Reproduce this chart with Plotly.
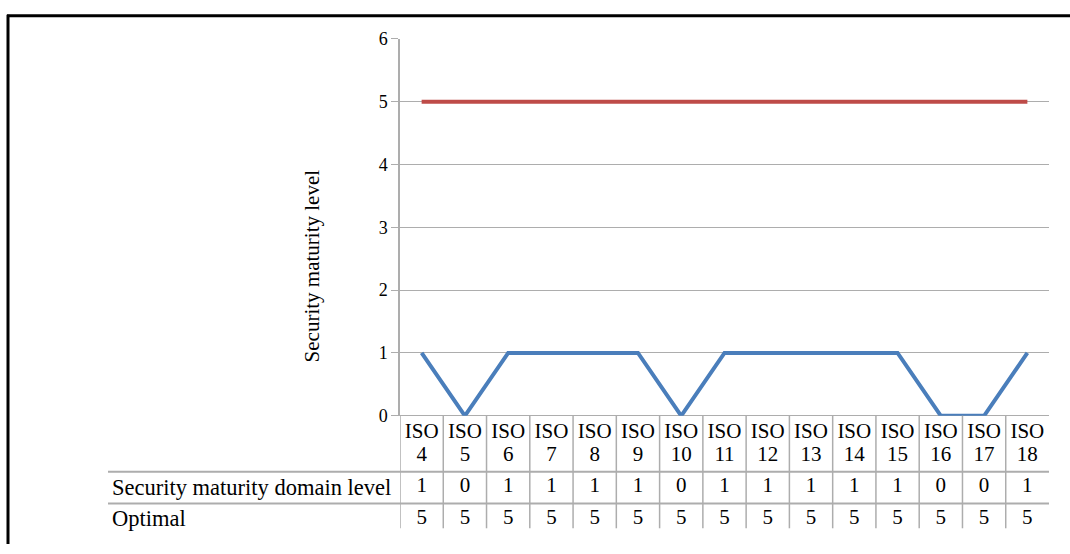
import plotly.graph_objects as go

# ---- data ----
categories = ["ISO 4", "ISO 5", "ISO 6", "ISO 7", "ISO 8", "ISO 9", "ISO 10", "ISO 11",
              "ISO 12", "ISO 13", "ISO 14", "ISO 15", "ISO 16", "ISO 17", "ISO 18"]
maturity = [1, 0, 1, 1, 1, 1, 0, 1, 1, 1, 1, 1, 0, 0, 1]
optimal = [5, 5, 5, 5, 5, 5, 5, 5, 5, 5, 5, 5, 5, 5, 5]
series_names = ["Security maturity domain level", "Optimal"]
y_title = "Security maturity level"
y_ticks = [0, 1, 2, 3, 4, 5, 6]

# ---- geometry helpers (pixels -> paper) ----
W, H = 1070, 554
def px(x):
    return x / W
def py(y):
    return (H - y) / H

FONT = "Liberation Serif, Times New Roman, serif"
GRID = "#adadad"
BLUE = "#4a7ebb"
RED = "#be4b48"

fig = go.Figure()

fig.add_trace(go.Scatter(x=categories, y=maturity, mode="lines", name=series_names[0],
                         line=dict(color=BLUE, width=4), xaxis="x", yaxis="y"))
fig.add_trace(go.Scatter(x=categories, y=optimal, mode="lines", name=series_names[1],
                         line=dict(color=RED, width=4), xaxis="x", yaxis="y"))

# data table rows (y2 coordinate = pixel offset below plot bottom)
def text_row(texts, yrow, size):
    fig.add_trace(go.Scatter(x=categories, y=[yrow] * len(categories), mode="text", text=texts,
                             textposition="middle center",
                             textfont=dict(family=FONT, size=size, color="black"),
                             xaxis="x", yaxis="y2", cliponaxis=False, showlegend=False,
                             hoverinfo="skip"))

text_row([c.split(" ")[0] for c in categories], 18, 21)
text_row([c.split(" ")[1] for c in categories], 41, 21)
text_row([str(v) for v in maturity], 74, 21)
text_row([str(v) for v in optimal], 107, 21)

shapes = []
n = len(categories)
# vertical axis line extension through table
shapes.append(dict(type="line", xref="x", yref="paper", x0=-0.5, x1=-0.5, y0=py(421), y1=py(538),
                   line=dict(color=GRID, width=1.5)))
# column separators
for i in range(n - 1):
    shapes.append(dict(type="line", xref="x", yref="paper", x0=i + 0.5, x1=i + 0.5,
                       y0=py(421), y1=py(538), line=dict(color=GRID, width=1.5)))
# row separators
for yy in (479, 512):
    shapes.append(dict(type="line", xref="paper", yref="paper", x0=px(108), x1=px(1049),
                       y0=py(yy), y1=py(yy), line=dict(color=GRID, width=2)))
# crop below table
shapes.append(dict(type="rect", xref="paper", yref="paper", x0=px(10), x1=1, y0=0, y1=py(538),
                   fillcolor="white", line=dict(width=0), layer="above"))
# black frame (left and top)
shapes.append(dict(type="line", xref="paper", yref="paper", x0=px(8), x1=px(8), y0=0, y1=py(5),
                   line=dict(color="black", width=3), layer="above"))
shapes.append(dict(type="line", xref="paper", yref="paper", x0=px(7), x1=1, y0=py(6), y1=py(6),
                   line=dict(color="black", width=3), layer="above"))

annotations = [
    dict(text=series_names[0], xref="paper", yref="y2", x=px(110), y=74, xanchor="left",
         yanchor="middle", showarrow=False, font=dict(family=FONT, size=22.5, color="black")),
    dict(text=series_names[1], xref="paper", yref="y2", x=px(110), y=107, xanchor="left",
         yanchor="middle", showarrow=False, font=dict(family=FONT, size=22.5, color="black")),
    dict(text=y_title, xref="paper", yref="paper", x=px(312), y=py(266), textangle=-90,
         xanchor="center", yanchor="middle", showarrow=False,
         font=dict(family=FONT, size=21, color="black")),
]

fig.update_layout(
    width=W, height=H,
    margin=dict(l=0, r=0, t=0, b=0),
    paper_bgcolor="white", plot_bgcolor="white",
    showlegend=False,
    xaxis=dict(type="category", range=[-0.5, n - 0.5], domain=[px(400), px(1049)],
               showticklabels=False, showgrid=False, zeroline=False, showline=False,
               ticks="", anchor="y"),
    yaxis=dict(range=[0, 6], tickvals=y_ticks, domain=[py(421), py(30)],
               showgrid=True, gridcolor=GRID, gridwidth=1.3,
               zeroline=True, zerolinecolor=GRID, zerolinewidth=1.3,
               showline=True, linecolor=GRID, linewidth=1.5,
               ticks="outside", ticklen=7, tickcolor=GRID, tickwidth=1.3,
               tickfont=dict(family=FONT, size=18, color="black"), anchor="x"),
    yaxis2=dict(range=[117, 0], domain=[py(538), py(421)], visible=False, anchor="x",
                showgrid=False, zeroline=False),
    shapes=shapes,
    annotations=annotations,
)

fig.write_html("out.html", config={"displayModeBar": False},
               post_script="document.body.style.margin='0';")
